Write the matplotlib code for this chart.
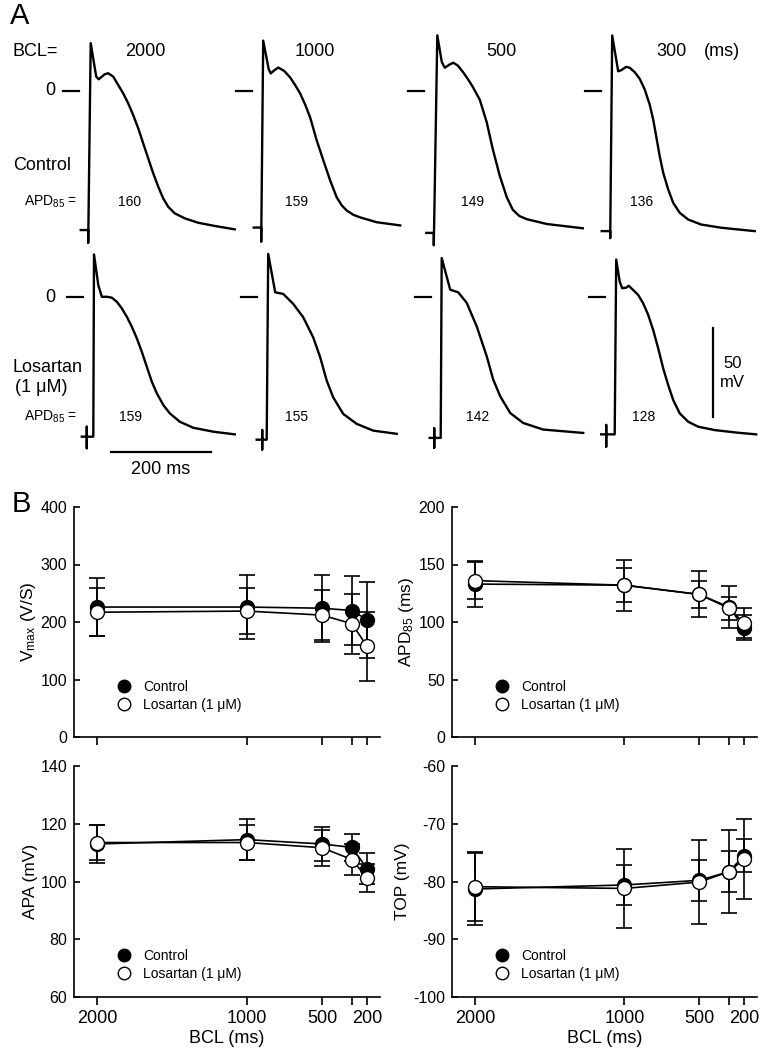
import numpy as np
import matplotlib
matplotlib.use("Agg")
import matplotlib.pyplot as plt
from matplotlib.lines import Line2D

plt.rcParams['font.family'] = ['Liberation Sans', 'DejaVu Sans']
plt.rcParams['mathtext.fontset'] = 'custom'
plt.rcParams['mathtext.rm'] = 'Liberation Sans'
plt.rcParams['mathtext.it'] = 'Liberation Sans:italic'
plt.rcParams['axes.unicode_minus'] = False

# ---- panel A: action potential traces (ms, mV) ----
c2000_t = [-16, -1, -1, 4, 15, 20, 32, 39, 49, 59, 69, 79, 89, 99, 109, 119, 129, 139, 149, 159, 172, 192, 219, 252, 292]
c2000_v = [-78.4, -78.4, -85.7, 26.6, 7.8, 6.3, 9.1, 9.7, 7.8, 3.1, -1.6, -7.2, -13.8, -21.2, -29.7, -38.1, -46.5, -54, -60.6, -65.3, -69, -71.8, -74.3, -76.1, -78]
c1000_t = [-16, -1, -1, 3, 14, 18, 26, 33, 45, 57, 67, 77, 87, 97, 110, 123, 137, 150, 160, 170, 183, 197, 230, 277]
c1000_v = [-77, -77, -85, 28, 12, 9.6, 11.5, 12.9, 11, 7.3, 3, -1.7, -8, -15.2, -28, -39, -50.6, -60, -64.5, -67.4, -69.8, -71.3, -74, -75.8]
c500_t = [-16, -1, -1, 6, 15, 21, 30, 38, 47, 57, 67, 77, 91, 105, 117, 131, 145, 157, 170, 185, 225, 297]
c500_v = [-80, -80, -87, 31, 16, 12.8, 14.5, 15.6, 14, 10.5, 6.5, 2, -5.2, -18, -33, -48, -60, -67, -70.5, -72.3, -75, -77.4]
c300_t = [-18, -1, -1, 3, 15, 21, 31, 38, 48, 58, 68, 78, 85, 91, 98, 105, 115, 125, 138, 155, 181, 221, 288]
c300_v = [-79, -79, -83, 30.9, 10.8, 11.4, 13.3, 12.8, 10.3, 6.6, 0.6, -7.9, -16.3, -25.7, -36.9, -46.2, -55.6, -63.1, -68.7, -72.5, -75.3, -77.1, -79]

l2000_t = [-23, -13, -13, -13, -13, 0, 1.4, 10, 17, 27, 37, 47, 57, 67, 77, 87, 97, 107, 117, 127, 140, 153, 173, 200, 240, 283]
l2000_v = [-78.3, -78.3, -72.7, -84.8, -78.3, -78.3, 24.1, 6.9, 0.3, 0.3, -0.2, -2.5, -6.2, -10.9, -16.5, -23, -30.6, -39, -47.4, -53.9, -60.5, -65.2, -69.9, -73.3, -75.5, -77]
l1000_t = [-20, -9, -9, -9, -9, 0, 3, 17, 33, 53, 73, 93, 107, 120, 133, 153, 180, 213, 260]
l1000_v = [-80, -80, -74.5, -85.5, -80, -80, 24.4, 2.8, 1.9, -3.7, -11.2, -22.5, -33.7, -46.8, -56.2, -65.5, -71.1, -74.9, -76.7]
l500_t = [-22, -13, -13, -13, -13, 0, 2, 19, 35, 52, 72, 92, 105, 119, 139, 165, 205, 285]
l500_v = [-79, -79, -73.5, -84.5, -79, -79, 22.1, 4.3, 2.8, -3.1, -16.3, -33.1, -46.2, -55.6, -65, -70.6, -74.3, -76.2]
l300_t = [-27, -17, -17, -17, -17, 0, 3, 10, 15, 23, 28, 37, 47, 57, 67, 77, 87, 97, 107, 117, 130, 147, 167, 200, 247, 283]
l300_v = [-77, -77, -71.7, -83.9, -77, -77, 21.2, 8.8, 5.1, 5.4, 6.5, 4.1, 1.3, -3.4, -9.9, -18.4, -28.7, -39.9, -49.3, -57.7, -65.2, -69.9, -72.7, -74.6, -76.1, -77]

bcl_titles = ['2000', '1000', '500', '300']
apd_ctrl_txt = ['160', '159', '149', '136']
apd_los_txt = ['159', '155', '142', '128']

# ---- panel B: summary data ----
bcl = [2000, 1000, 500, 300, 200]
vmax_ctrl = [226, 226, 224, 220, 204]
vmax_ctrl_err = [51, 56, 58, 60, 66]
vmax_los = [217, 219, 212, 197, 158]
vmax_los_err = [42, 40, 44, 52, 60]
apd_ctrl = [133, 132, 124, 113, 95]
apd_ctrl_err = [20, 22, 20, 18, 11]
apd_los = [136, 132, 124, 112, 99]
apd_los_err = [16, 15, 12, 10, 13]
apa_ctrl = [113, 114.5, 113, 111.8, 104.5]
apa_ctrl_err = [6.5, 7, 6, 4.8, 5.2]
apa_los = [113.5, 113.5, 111.7, 107.6, 101.3]
apa_los_err = [6, 6, 6.3, 5.4, 4.9]
top_ctrl = [-81.3, -80.6, -79.8, -78.3, -75.5]
top_ctrl_err = [6.3, 3.5, 3.6, 3.6, 2.8]
top_los = [-80.9, -81.2, -80.1, -78.3, -76.1]
top_los_err = [6.0, 6.8, 7.2, 7.2, 7.0]

W, H = 770, 1050
fig = plt.figure(figsize=(W / 100, H / 100), dpi=100)


def box(left, top, w, h):
    # pixel box -> figure fraction
    return [left / W, 1 - (top + h) / H, w / W, h / H]


def ftext(x, y, s, **kw):
    fig.text(x / W, 1 - y / H, s, **kw)


# trace axes layout
MS_PX, MV_PX = 0.5, 1.78
T0, T1, V0, V1 = -60, 310, -95, 40
up_px = [[88.7, 261.7, 434.3, 610.7], [93.3, 266.7, 440.7, 614.7]]
zero_px = [90.5, 297.3]
traces = [[(c2000_t, c2000_v), (c1000_t, c1000_v), (c500_t, c500_v), (c300_t, c300_v)],
          [(l2000_t, l2000_v), (l1000_t, l1000_v), (l500_t, l500_v), (l300_t, l300_v)]]

trace_axes = []
for r in range(2):
    row = []
    for i in range(4):
        ax = fig.add_axes(box(up_px[r][i] + T0 * MS_PX, zero_px[r] - V1 * MV_PX,
                              (T1 - T0) * MS_PX, (V1 - V0) * MV_PX))
        ax.set_xlim(T0, T1)
        ax.set_ylim(V0, V1)
        ax.axis('off')
        ax.patch.set_visible(False)
        t, v = traces[r][i]
        ax.plot(t, v, color='black', lw=1.7, clip_on=False, solid_joinstyle='round')
        ax.plot([-52, -20], [0, 0], color='black', lw=1.6)
        row.append(ax)
    trace_axes.append(row)

# scale bars
ax = trace_axes[1][0]
ax.plot([35, 235], [-87, -87], color='black', lw=1.6, clip_on=False)
ax.text(135, -97, '200 ms', ha='center', va='center', fontsize=13)
ax = trace_axes[1][3]
ax.plot([197, 197], [-17, -67], color='black', lw=1.6, clip_on=False)
ax.text(235, -37, '50', ha='center', va='center', fontsize=12)
ax.text(235, -48, 'mV', ha='center', va='center', fontsize=12)

ftext(10, 16, 'A', fontsize=21, ha='left', va='center')
ftext(12, 52, 'BCL=', fontsize=13, ha='left', va='center')
for x, s in zip([145, 315, 501, 671], bcl_titles):
    ftext(x, 52, s, fontsize=13, ha='center', va='center')
ftext(722, 52, '(ms)', fontsize=13, ha='center', va='center')
for y in zero_px:
    ftext(50, y, '0', fontsize=13, ha='center', va='center')
ftext(13, 165, 'Control', fontsize=13, ha='left', va='center')
ftext(77, 202, r'APD$_{85}$ =', fontsize=10, ha='right', va='center')
for x, s in zip([130, 297, 472, 642], apd_ctrl_txt):
    ftext(x, 202, s, fontsize=10, ha='center', va='center')
ftext(13, 367, 'Losartan', fontsize=13, ha='left', va='center')
ftext(15, 387, '(1 μM)', fontsize=13, ha='left', va='center')
ftext(77, 417, r'APD$_{85}$ =', fontsize=10, ha='right', va='center')
for x, s in zip([130, 297, 478, 644], apd_los_txt):
    ftext(x, 417, s, fontsize=10, ha='center', va='center')
ftext(12, 504, 'B', fontsize=21, ha='left', va='center')

# ---- panel B ----
panels = [
    (box(74, 507, 306, 230), vmax_ctrl, vmax_ctrl_err, vmax_los, vmax_los_err,
     (0, 400), [0, 100, 200, 300, 400], r'V$_{\rm max}$ (V/S)', False, 0.11),
    (box(452, 507, 305, 230), apd_ctrl, apd_ctrl_err, apd_los, apd_los_err,
     (0, 200), [0, 50, 100, 150, 200], r'APD$_{85}$ (ms)', False, 0.11),
    (box(74, 766, 306, 231), apa_ctrl, apa_ctrl_err, apa_los, apa_los_err,
     (60, 140), [60, 80, 100, 120, 140], 'APA (mV)', True, 0.07),
    (box(452, 766, 305, 231), top_ctrl, top_ctrl_err, top_los, top_los_err,
     (-100, -60), [-100, -90, -80, -70, -60], 'TOP (mV)', True, 0.07),
]

for pos, yc, ec, yl, el, ylim, yt, ylab, xlab, legy in panels:
    ax = fig.add_axes(pos)
    ax.errorbar(bcl, yc, yerr=ec, color='black', lw=1.2, elinewidth=1.2, capsize=6,
                capthick=1.2, marker='o', ms=10, mfc='black', mec='black', zorder=3)
    ax.errorbar(bcl, yl, yerr=el, color='black', lw=1.2, elinewidth=1.2, capsize=6,
                capthick=1.2, marker='o', ms=10, mfc='white', mec='black', zorder=4)
    ax.set_xlim(2153, 113)
    ax.set_ylim(*ylim)
    ax.set_yticks(yt)
    ax.set_xticks(bcl)
    if xlab:
        ax.set_xticklabels(['2000', '1000', '500', '', '200'], fontsize=13)
        ax.set_xlabel('BCL (ms)', fontsize=13, labelpad=2)
    else:
        ax.set_xticklabels([])
    ax.tick_params(axis='y', labelsize=11.5, direction='in', length=4, width=1.2, pad=5)
    ax.tick_params(axis='x', direction='out', length=6, width=1.2)
    ax.set_ylabel(ylab, fontsize=12.5, labelpad=2)
    for s in ['top', 'right']:
        ax.spines[s].set_visible(False)
    for s in ['left', 'bottom']:
        ax.spines[s].set_linewidth(1.2)
    handles = [Line2D([], [], ls='none', marker='o', ms=9, mfc='black', mec='black'),
               Line2D([], [], ls='none', marker='o', ms=9, mfc='white', mec='black')]
    ax.legend(handles, ['Control', 'Losartan (1 μM)'], loc='lower left',
              bbox_to_anchor=(0.14, legy), frameon=False, fontsize=10,
              handlelength=1, handletextpad=0.9, labelspacing=0.25, borderpad=0,
              borderaxespad=0)

fig.savefig('out.png', dpi=100)
